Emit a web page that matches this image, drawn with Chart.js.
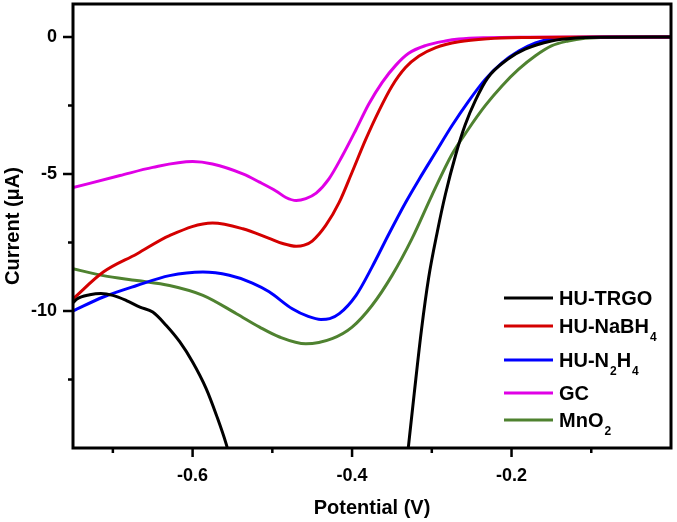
<!DOCTYPE html>
<html>
<head>
<meta charset="utf-8">
<script src="https://cdn.jsdelivr.net/npm/chart.js@4.4.1/dist/chart.umd.min.js"></script>
<style>
html,body{margin:0;padding:0;background:#fff;}
</style>
</head>
<body>
<canvas id="cv" width="677" height="522"></canvas>
<script>
// series names (subscripts as unicode, drawn smaller by the legend)
var names = ['HU-TRGO', 'HU-NaBH\u2084', 'HU-N\u2082H\u2084', 'GC', 'MnO\u2082'];
var colors = ['#000000', '#d40000', '#0000ff', '#e000e6', '#4f8230'];

// axis ticks
var xTicks = [-0.6, -0.4, -0.2];
var xMinor = [-0.7, -0.5, -0.3, -0.1];
var yTicks = [0, -5, -10];
var yMinor = [-2.5, -7.5, -12.5];

// HU-TRGO (goes off the bottom twice, gap in between)
var trgoV = [-0.75, -0.745, -0.729, -0.715, -0.70, -0.683, -0.666, -0.65, -0.633, -0.616, -0.60, -0.583, -0.57, -0.558, -0.552,
             -0.45,
             -0.331, -0.322, -0.313, -0.304, -0.293, -0.283, -0.270, -0.258, -0.245, -0.23, -0.205, -0.183, -0.15, -0.12, -0.08, 0];
var trgoI = [-9.7, -9.56, -9.41, -9.36, -9.43, -9.62, -9.86, -10.04, -10.53, -11.13, -11.86, -12.83, -13.81, -14.84, -15.5,
             null,
             -15.4, -13.0, -10.7, -8.8, -7.1, -5.75, -4.3, -3.2, -2.3, -1.5, -0.82, -0.45, -0.15, -0.04, -0.01, 0];

// HU-NaBH4
var nabhV = [-0.75, -0.712, -0.67, -0.629, -0.575, -0.537, -0.504, -0.487, -0.47, -0.46, -0.45, -0.433, -0.416, -0.4, -0.383, -0.366, -0.35, -0.333, -0.316, -0.295, -0.266, -0.23, -0.18, -0.1, 0];
var nabhI = [-9.56, -8.58, -7.92, -7.25, -6.79, -7.0, -7.35, -7.54, -7.64, -7.6, -7.45, -6.88, -6.03, -4.94, -3.75, -2.68, -1.8, -1.12, -0.7, -0.39, -0.18, -0.07, -0.02, 0, 0];

// HU-N2H4
var n2hV = [-0.75, -0.712, -0.67, -0.629, -0.587, -0.554, -0.525, -0.504, -0.475, -0.455, -0.439, -0.428, -0.416, -0.395, -0.375, -0.354, -0.333, -0.316, -0.295, -0.275, -0.254, -0.233, -0.212, -0.191, -0.17, -0.15, -0.12, -0.08, 0];
var n2hI = [-10.0, -9.49, -9.07, -8.71, -8.58, -8.7, -8.98, -9.3, -9.92, -10.2, -10.31, -10.28, -10.1, -9.43, -8.4, -7.2, -6.05, -5.2, -4.2, -3.25, -2.35, -1.55, -0.95, -0.52, -0.22, -0.08, -0.02, 0, 0];

// GC
var gcV = [-0.75, -0.691, -0.65, -0.60, -0.575, -0.537, -0.516, -0.495, -0.483, -0.47, -0.458, -0.445, -0.429, -0.412, -0.395, -0.379, -0.362, -0.345, -0.329, -0.308, -0.283, -0.266, -0.23, -0.18, -0.1, 0];
var gcI = [-5.5, -5.06, -4.76, -4.55, -4.64, -5.0, -5.3, -5.63, -5.86, -5.97, -5.9, -5.7, -5.18, -4.33, -3.38, -2.45, -1.65, -1.03, -0.6, -0.32, -0.15, -0.08, -0.03, -0.01, 0, 0];

// MnO2
var mnoV = [-0.75, -0.712, -0.67, -0.629, -0.587, -0.545, -0.516, -0.491, -0.458, -0.425, -0.4, -0.375, -0.35, -0.325, -0.3, -0.275, -0.254, -0.233, -0.212, -0.191, -0.17, -0.15, -0.129, -0.108, -0.08, 0];
var mnoI = [-8.46, -8.71, -8.89, -9.07, -9.43, -10.1, -10.59, -10.95, -11.2, -11.01, -10.59, -9.8, -8.71, -7.37, -5.79, -4.3, -3.36, -2.51, -1.79, -1.18, -0.69, -0.33, -0.15, -0.05, -0.01, 0];

function pts(v, i) {
  return v.map(function (x, k) { return {x: x, y: i[k]}; });
}
var series = [pts(trgoV, trgoI), pts(nabhV, nabhI), pts(n2hV, n2hI), pts(gcV, gcI), pts(mnoV, mnoI)];

var FONT = '"Liberation Sans", Arial, sans-serif';

// frame + major/minor tick marks
var frame = {
  id: 'frame',
  afterDraw: function (chart) {
    var ctx = chart.ctx, a = chart.chartArea, x = chart.scales.x, y = chart.scales.y;
    ctx.save();
    ctx.strokeStyle = '#000';
    ctx.lineWidth = 3;
    ctx.strokeRect(a.left, a.top, a.right - a.left, a.bottom - a.top);
    ctx.lineWidth = 2.5;
    ctx.beginPath();
    xTicks.forEach(function (v) { var p = x.getPixelForValue(v); ctx.moveTo(p, a.bottom); ctx.lineTo(p, a.bottom + 9); });
    xMinor.forEach(function (v) { var p = x.getPixelForValue(v); ctx.moveTo(p, a.bottom); ctx.lineTo(p, a.bottom + 5); });
    yTicks.forEach(function (v) { var p = y.getPixelForValue(v); ctx.moveTo(a.left, p); ctx.lineTo(a.left - 10, p); });
    yMinor.forEach(function (v) { var p = y.getPixelForValue(v); ctx.moveTo(a.left, p); ctx.lineTo(a.left - 5, p); });
    ctx.stroke();
    ctx.restore();
  }
};

// legend in the lower right, with subscripts
var legendBox = {
  id: 'legendBox',
  afterDraw: function (chart) {
    var ctx = chart.ctx;
    var rows = [298, 326, 360, 393, 420];
    ctx.save();
    ctx.textBaseline = 'alphabetic';
    ctx.fillStyle = '#000';
    names.forEach(function (name, k) {
      var yy = rows[k];
      ctx.strokeStyle = colors[k];
      ctx.lineWidth = 3;
      ctx.beginPath();
      ctx.moveTo(504, yy);
      ctx.lineTo(553, yy);
      ctx.stroke();
      var xx = 559;
      for (var c = 0; c < name.length; c++) {
        var ch = name[c];
        var code = ch.charCodeAt(0);
        if (code >= 0x2080 && code <= 0x2089) {
          ctx.font = 'bold 12px ' + FONT;
          var d = String(code - 0x2080);
          ctx.fillText(d, xx + 1, yy + 15);
          xx += ctx.measureText(d).width + 1;
        } else {
          ctx.font = 'bold 20px ' + FONT;
          ctx.fillText(ch, xx, yy + 7);
          xx += ctx.measureText(ch).width;
        }
      }
    });
    ctx.restore();
  }
};

var tickFont = {family: FONT, size: 18, weight: 'bold'};
var titleFont = {family: FONT, size: 20, weight: 'bold'};

new Chart(document.getElementById('cv'), {
  type: 'scatter',
  data: {
    datasets: series.map(function (d, k) {
      return {
        label: names[k],
        data: d,
        showLine: true,
        borderColor: colors[k],
        backgroundColor: colors[k],
        borderWidth: 3,
        pointRadius: 0,
        cubicInterpolationMode: 'monotone',
        spanGaps: false
      };
    })
  },
  options: {
    responsive: false,
    animation: false,
    devicePixelRatio: 1,
    layout: {padding: {top: 4, right: 6, left: 0, bottom: 0}},
    plugins: {legend: {display: false}, tooltip: {enabled: false}},
    scales: {
      x: {
        type: 'linear',
        min: -0.75,
        max: 0,
        afterBuildTicks: function (s) { s.ticks = xTicks.map(function (v) { return {value: v}; }); },
        afterFit: function (s) { s.height = 74; s.paddingLeft = 0; s.paddingRight = 0; },
        grid: {display: false, drawTicks: false},
        border: {display: false},
        ticks: {padding: 17, color: '#000', font: tickFont, maxRotation: 0, autoSkip: false,
                callback: function (v) { return String(v); }},
        title: {display: true, text: 'Potential (V)', color: '#000', font: titleFont, padding: {top: 0, bottom: 2}}
      },
      y: {
        type: 'linear',
        min: -15,
        max: 1.2,
        afterBuildTicks: function (s) { s.ticks = yTicks.map(function (v) { return {value: v}; }); },
        afterFit: function (s) { s.width = 73; s.paddingTop = 0; s.paddingBottom = 0; },
        grid: {display: false, drawTicks: false},
        border: {display: false},
        ticks: {padding: 16, color: '#000', font: tickFont, autoSkip: false,
                callback: function (v) { return String(v); }},
        title: {display: true, text: 'Current (\u03bcA)', color: '#000', font: titleFont, padding: {top: 1, bottom: 0}}
      }
    }
  },
  plugins: [frame, legendBox]
});
</script>
</body>
</html>
